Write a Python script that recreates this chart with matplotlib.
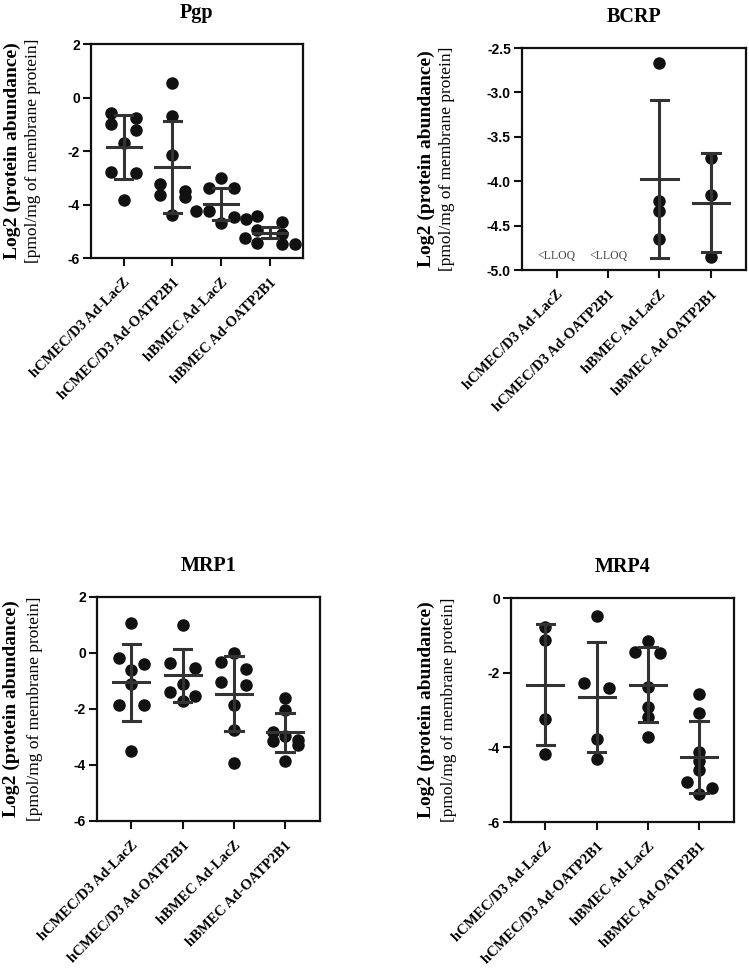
import numpy as np
import matplotlib
matplotlib.use("Agg")
import matplotlib.pyplot as plt

groups = ["hCMEC/D3 Ad-LacZ", "hCMEC/D3 Ad-OATP2B1", "hBMEC Ad-LacZ", "hBMEC Ad-OATP2B1"]

# values (log2 pmol/mg membrane protein)
pgp_vals = [
    [-0.58, -0.76, -0.99, -1.20, -1.70, -2.80, -2.83, -3.83],
    [0.54, -0.68, -2.16, -3.24, -3.51, -3.64, -3.73, -4.39],
    [-3.01, -3.39, -3.39, -4.26, -4.26, -4.45, -4.55, -4.68],
    [-4.43, -4.64, -4.95, -5.10, -5.25, -5.45, -5.46, -5.48],
]
pgp_mean = [-1.85, -2.60, -3.99, -5.05]
pgp_sd = [1.19, 1.73, 0.60, 0.20]

bcrp_vals = [
    [],
    [],
    [-2.67, -4.22, -4.34, -4.65],
    [-3.74, -4.16, -4.85],
]
bcrp_mean = [np.nan, np.nan, -3.97, -4.24]
bcrp_sd = [np.nan, np.nan, 0.89, 0.56]
bcrp_lloq = [True, True, False, False]

mrp1_vals = [
    [1.07, -0.18, -0.38, -0.60, -1.10, -1.85, -1.85, -3.51],
    [1.01, -0.36, -0.54, -1.10, -1.41, -1.52, -1.73],
    [0.00, -0.33, -0.57, -1.05, -1.15, -1.87, -2.74, -3.93],
    [-1.61, -2.04, -2.83, -2.98, -3.10, -3.15, -3.30, -3.85],
]
mrp1_mean = [-1.05, -0.80, -1.46, -2.83]
mrp1_sd = [1.37, 0.95, 1.34, 0.70]

mrp4_vals = [
    [-0.79, -1.13, -3.23, -4.17],
    [-0.49, -2.29, -2.41, -3.77, -4.32],
    [-1.15, -1.45, -1.47, -2.38, -2.92, -3.19, -3.72],
    [-2.58, -3.08, -4.13, -4.37, -4.62, -4.93, -5.09, -5.24],
]
mrp4_mean = [-2.32, -2.65, -2.32, -4.26]
mrp4_sd = [1.63, 1.48, 1.00, 0.96]

serif = "Liberation Serif"
sans = "Liberation Sans"
dot_col = "#111111"
bar_col = "#333333"

W, H = 749, 977
fig = plt.figure(figsize=(W / 100, H / 100), dpi=100)


def px_axes(left, top, right, bottom):
    return fig.add_axes([left / W, 1 - bottom / H, (right - left) / W, (bottom - top) / H])


def swarm(vals, thresh, step):
    # row-based swarm like Prism: points closer than thresh in y share a row
    vals = np.asarray(vals, float)
    off = np.zeros(len(vals))
    if len(vals) == 0:
        return off
    order = np.argsort(-vals)
    bins, cur = [], [order[0]]
    for i in order[1:]:
        if vals[cur[0]] - vals[i] < thresh:
            cur.append(i)
        else:
            bins.append(cur)
            cur = [i]
    bins.append(cur)
    for b in bins:
        n = len(b)
        if n % 2:
            slots = [k - (n - 1) / 2 for k in range(n)]
        else:
            slots = [k for k in range(-n // 2, 0)] + [k for k in range(1, n // 2 + 1)]
        for k, i in zip(slots, b):
            off[i] = k * step
    return off


def panel(box, title, vals, means, sds, ylim, yticks, fmt, lab_x, lloq=None):
    left, top, right, bottom = box
    ax = px_axes(left, top, right, bottom)
    ax.set_xlim(-0.67, 3.68)
    ax.set_ylim(*ylim)
    h_px = bottom - top
    thresh = 8 / h_px * (ylim[1] - ylim[0])
    w_px = right - left
    step = 12.5 / w_px * 4.35
    for i, v in enumerate(vals):
        if len(v):
            x = i + swarm(v, thresh, step)
            ax.plot(x, v, "o", ms=8.0, color=dot_col, zorder=3, clip_on=False)
        if not np.isnan(means[i]):
            m, s = means[i], sds[i]
            ax.plot([i - 0.35, i + 0.35], [m, m], color=bar_col, lw=2.2, zorder=4)
            ax.plot([i, i], [m - s, m + s], color=bar_col, lw=2.2, zorder=4)
            for e in (m - s, m + s):
                ax.plot([i - 0.17, i + 0.17], [e, e], color=bar_col, lw=2.2, zorder=4)
        if lloq is not None and lloq[i]:
            ax.text(i, ylim[0] + 0.065 * (ylim[1] - ylim[0]), "<LLOQ", ha="center", va="center",
                    fontsize=8.5, family=serif, color="#444444")
    ax.set_yticks(yticks)
    ax.set_yticklabels([fmt.format(t) for t in yticks], fontfamily=sans, fontweight="bold", fontsize=10)
    ax.set_xticks(range(4))
    ax.set_xticklabels(groups, rotation=45, ha="right", rotation_mode="anchor",
                       fontfamily=serif, fontweight="bold", fontsize=10.5)
    ax.tick_params(axis="both", direction="out", length=6, width=1.5, color="#111111")
    ax.tick_params(axis="x", pad=7)
    ax.tick_params(axis="y", pad=2)
    for sp in ax.spines.values():
        sp.set_linewidth(1.6)
        sp.set_color("#111111")
    yc = 1 - (top + bottom) / 2 / H
    fig.text(lab_x[0] / W, yc, "Log2 (protein abundance)", rotation=90, ha="center", va="center",
             family=serif, fontweight="bold", fontsize=14)
    fig.text(lab_x[1] / W, yc, "[pmol/mg of membrane protein]", rotation=90, ha="center", va="center",
             family=serif, fontsize=12.5)
    fig.text((left + right) / 2 / W, 1 - (top - 31) / H, title, ha="center", va="center",
             family=serif, fontweight="bold", fontsize=14.5)
    return ax


panel((91, 44, 303, 258), "Pgp", pgp_vals, pgp_mean, pgp_sd, (-6, 2), [-6, -4, -2, 0, 2], "{:g}",
      (12, 33))
panel((522, 48, 746, 270), "BCRP", bcrp_vals, bcrp_mean, bcrp_sd, (-5.0, -2.5),
      [-5.0, -4.5, -4.0, -3.5, -3.0, -2.5], "{:.1f}", (426, 447), lloq=bcrp_lloq)
panel((97, 597, 320, 821), "MRP1", mrp1_vals, mrp1_mean, mrp1_sd, (-6, 2), [-6, -4, -2, 0, 2], "{:g}",
      (11, 35))
panel((511, 598, 734, 822), "MRP4", mrp4_vals, mrp4_mean, mrp4_sd, (-6, 0), [-6, -4, -2, 0], "{:g}",
      (426, 449))

fig.savefig("out.png", dpi=100)
